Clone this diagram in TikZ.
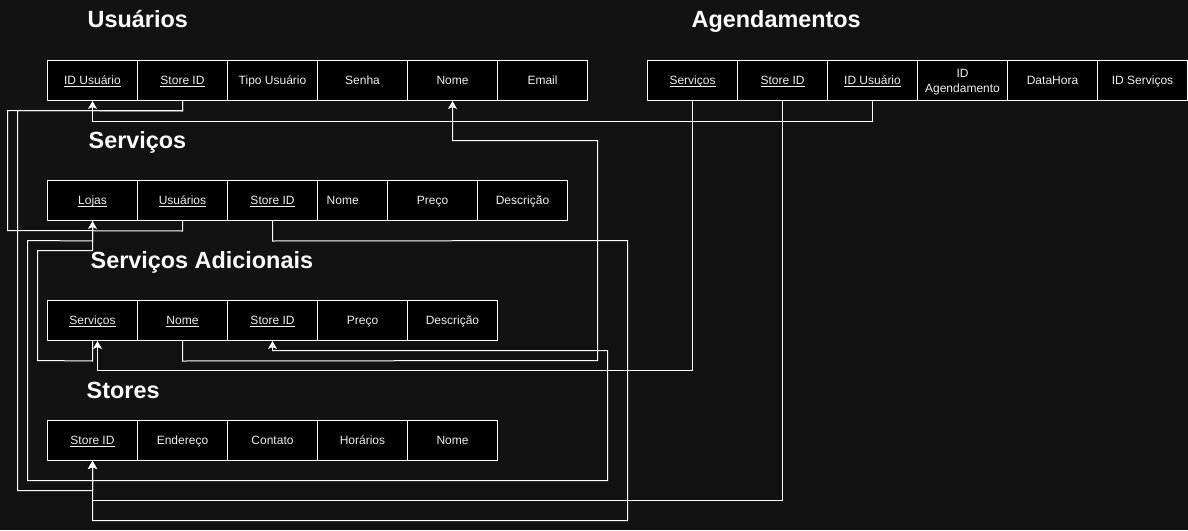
\documentclass[tikz,border=0pt]{standalone}
\usepackage{fontspec}
\setmainfont{Liberation Sans}
\usetikzlibrary{arrows.meta}
\definecolor{bgc}{HTML}{121212}
\definecolor{txc}{HTML}{F0F0F0}
\newcommand\ulk[1]{\setbox0\hbox{#1}\rlap{\rule[-2.2pt]{\wd0}{0.7pt}}\box0}
\tikzset{
  cell/.style={draw=white, fill=black, line width=1pt, minimum width=90pt, minimum height=40pt,
    inner sep=0pt, text=txc, font=\fontsize{12pt}{14.4pt}\selectfont, align=center,
    text height=10pt, text depth=2pt},
  celltext/.style={inner sep=0pt, text=txc, font=\fontsize{12pt}{14.4pt}\selectfont},
  title/.style={anchor=base west, inner sep=0pt, text=white, font=\fontsize{23.4pt}{28pt}\selectfont\bfseries},
  link/.style={draw=white, line width=1pt},
  arr/.style={link, -{Stealth[length=8pt, width=9pt, inset=2pt]}},
}
\begin{document}
\begin{tikzpicture}[x=1pt, y=-1pt]
\fill[bgc] (0,0) rectangle (1188,530);
\useasboundingbox (0,0) rectangle (1188,530);
\begin{scope}[shift={(0.5,0.5)}]
% titles
\node[title] (tU) at (87,27.3) {Usuários};
\node[title] (tA) at (691,27.3) {Agendamentos};
\node[title] (tS) at (88,148) {Serviços};
\node[title] (tSA) at (90,268) {Serviços Adicionais};
\node[title] (tSt) at (86,398) {Stores};

% Usuarios
\node[cell] (u1) at (92,80) {\ulk{ID Usuário}};
\node[cell] (u2) at (182,80) {\ulk{Store ID}};
\node[cell] (u3) at (272,80) {Tipo Usuário};
\node[cell] (u4) at (362,80) {Senha};
\node[cell] (u5) at (452,80) {Nome};
\node[cell] (u6) at (542,80) {Email};

% Agendamentos
\node[cell] (g1) at (692,80) {\ulk{Serviços}};
\node[cell] (g2) at (782,80) {\ulk{Store ID}};
\node[cell] (g3) at (872,80) {\ulk{ID Usuário}};
\node[cell] (g4) at (962,80) {};
\node[celltext, align=center] (g4t) at (962,81.5) {ID\\Agendamento};
\node[cell] (g5) at (1052,80) {DataHora};
\node[cell] (g6) at (1142,80) {ID Serviços};

% Servicos
\node[cell] (s1) at (92,200) {\ulk{Lojas}};
\node[cell] (s2) at (182,200) {\ulk{Usuários}};
\node[cell] (s3) at (272,200) {\ulk{Store ID}};
\node[cell, minimum width=70pt] (s4) at (352,200) {};
\node[celltext, anchor=west, text height=10pt, text depth=2pt] (s4t) at (326,200) {Nome};
\node[cell] (s5) at (432,200) {Preço};
\node[cell] (s6) at (522,200) {Descrição};

% Servicos Adicionais
\node[cell] (a1) at (92,320) {\ulk{Serviços}};
\node[cell] (a2) at (182,320) {\ulk{Nome}};
\node[cell] (a3) at (272,320) {\ulk{Store ID}};
\node[cell] (a4) at (362,320) {Preço};
\node[cell] (a5) at (452,320) {Descrição};

% Stores
\node[cell] (st1) at (92,440) {\ulk{Store ID}};
\node[cell] (st2) at (182,440) {Endereço};
\node[cell] (st3) at (272,440) {Contato};
\node[cell] (st4) at (362,440) {Horários};
\node[cell] (st5) at (452,440) {Nome};

% connectors
\draw[arr] (u2.south) -- ++(0,10) -- (17,110) -- (17,490) -| (st1.south);
\draw[link] (s2.south) -- ++(0,10) -- (7,230) -- (7,110) -| (u2.south);
\draw[arr] (s1.south) -- ++(0,20) -- (27,240) -- (27,480) -- (607,480) -- (607,350) -| (a3.south);
\draw[arr] (a1.south) -- ++(0,20) -- (37,360) -- (37,250) -| (s1.south);
\draw[arr] (a2.south) -- ++(0,20) -- (597,360) -- (597,140) -| (u5.south);
\draw[arr] (s3.south) -- ++(0,20) -- (627,240) -- (627,520) -| (st1.south);
\draw[arr] (g3.south) -- ++(0,20) -| (u1.south);
\draw[arr] (g1.south) -- (692,370) -| ([xshift=5pt]a1.south);
\draw[arr] (g2.south) -- (782,500) -| (st1.south);
\end{scope}
\end{tikzpicture}
\end{document}
